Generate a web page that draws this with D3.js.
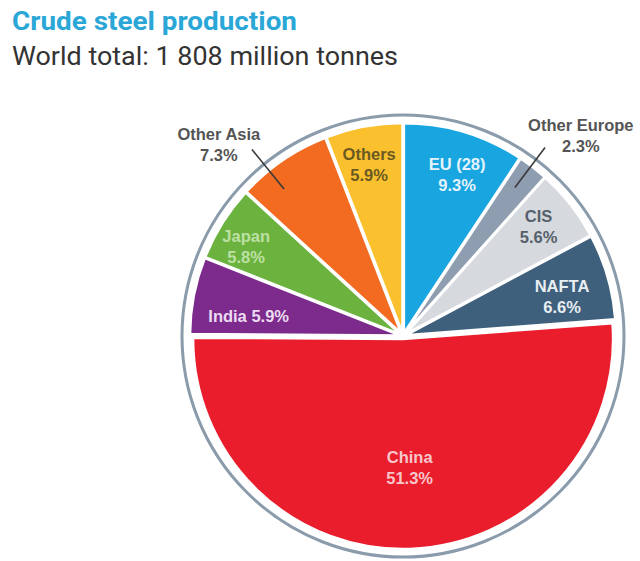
<!DOCTYPE html>
<html>
<head>
<meta charset="utf-8">
<script src="https://cdn.jsdelivr.net/npm/d3@7"></script>
<style>
  body { margin: 0; background: #fff; }
  svg { display: block; }
</style>
</head>
<body>
<div id="Area"></div>
<script>
// data (share of world crude steel output, %)
const regions = ["EU (28)", "Other Europe", "CIS", "NAFTA", "China", "India", "Japan", "Other Asia", "Others"];
const shares = [9.3, 2.3, 5.6, 6.6, 51.3, 5.9, 5.8, 7.3, 5.9];
const sliceColors = ["#19a6e0", "#8e9daf", "#d6d9de", "#3f607c", "#e91d2c", "#7c2b8d", "#6bb23f", "#f26b21", "#fbc02e"];
const labelColors = ["#e4f3fb", "#555555", "#55606a", "#e9eef3", "#f8c6ca", "#ecdcf1", "#bde0a3", "#555555", "#6a5a22"];

// label anchors: [radius, angle in degrees clockwise from 12 o'clock] of first baseline
const labelAt = [[175, 18], [271, 41], [177, 50], [165, 74.5], [127, 177], [155, 275.2], [183, 301], [269, 316.8], [179, 349.1]];
const oneLine = [false, false, false, false, false, true, false, false, false];
// leader lines for the two outside labels: [angle, r0, r1]
const leaders = {1: [37, 186, 236], 7: [321, 189, 240]};

var width = 640, height = 561;
var cx = 403, cy = 336, radius = 210, ringR = 221, explode = 3;

var svg = d3.select("#Area")
    .append("svg")
    .attr("width", width)
    .attr("height", height);

// title
svg.append("text")
    .attr("x", 12).attr("y", 30)
    .attr("textLength", 285).attr("lengthAdjust", "spacingAndGlyphs")
    .style("font-family", "'Liberation Sans Narrow', 'Roboto', Arial, sans-serif")
    .style("font-weight", "bold")
    .style("font-size", "25px")
    .style("fill", "#2aa7d6")
    .text("Crude steel production");

svg.append("text")
    .attr("x", 12).attr("y", 65)
    .attr("textLength", 386).attr("lengthAdjust", "spacingAndGlyphs")
    .style("font-family", "'Liberation Sans Narrow', 'Roboto', Arial, sans-serif")
    .style("font-size", "25px")
    .style("fill", "#333333")
    .text("World total: 1 808 million tonnes");

var g = svg.append("g").attr("transform", "translate(" + cx + "," + cy + ")");

// outer ring
g.append("circle")
    .attr("r", ringR)
    .style("fill", "none")
    .style("stroke", "#8a9bab")
    .style("stroke-width", 3);

var pie = d3.pie().sort(null).value(function(d) { return d; });
var arcs = pie(shares);
var arc = d3.arc().innerRadius(0).outerRadius(radius);

g.selectAll("path.slice")
    .data(arcs)
    .enter()
    .append("path")
    .attr("class", "slice")
    .attr("d", arc)
    .attr("transform", function(d) {
      var mid = (d.startAngle + d.endAngle) / 2;
      return "translate(" + (Math.sin(mid) * explode) + "," + (-Math.cos(mid) * explode) + ")";
    })
    .style("fill", function(d, i) { return sliceColors[i]; })
    .style("stroke", "#ffffff")
    .style("stroke-width", 2.5);

function polar(r, deg) {
  var a = deg * Math.PI / 180;
  return [Math.sin(a) * r, -Math.cos(a) * r];
}

// leader lines
Object.keys(leaders).forEach(function(k) {
  var l = leaders[k];
  var p0 = polar(l[1], l[0]), p1 = polar(l[2], l[0]);
  g.append("line")
      .attr("x1", p0[0]).attr("y1", p0[1])
      .attr("x2", p1[0]).attr("y2", p1[1])
      .style("stroke", "#3a3a3a")
      .style("stroke-width", 1.6);
});

var fmt = d3.format(".1f");
var labels = g.selectAll("text.lbl")
    .data(arcs)
    .enter()
    .append("text")
    .attr("class", "lbl")
    .attr("text-anchor", "middle")
    .style("font-family", "'Liberation Sans', Arial, sans-serif")
    .style("font-weight", "bold")
    .style("font-size", "16.5px")
    .style("fill", function(d, i) { return labelColors[i]; })
    .attr("transform", function(d, i) {
      var p = polar(labelAt[i][0], labelAt[i][1]);
      return "translate(" + p[0] + "," + p[1] + ")";
    });

labels.each(function(d, i) {
  var t = d3.select(this);
  var pct = fmt(d.data) + "%";
  if (oneLine[i]) {
    t.append("tspan").attr("x", 0).attr("y", 0).text(regions[i] + " " + pct);
  } else {
    t.append("tspan").attr("x", 0).attr("y", 0).text(regions[i]);
    t.append("tspan").attr("x", 0).attr("y", 21).text(pct);
  }
});
</script>
</body>
</html>
